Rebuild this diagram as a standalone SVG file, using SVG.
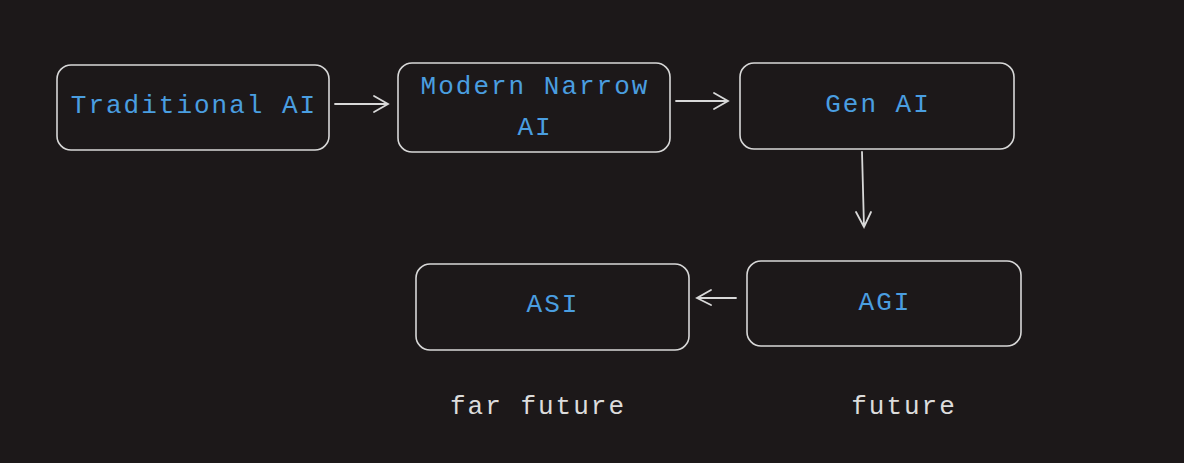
<svg xmlns="http://www.w3.org/2000/svg" width="1184" height="463" viewBox="0 0 1184 463">
<style>
.box{fill:none;stroke:#d8d8d8;stroke-width:1.6}
.lbl{fill:#4a9ee0;font-family:"Liberation Mono",monospace;font-size:26px;letter-spacing:2px;text-anchor:middle}
.note{fill:#dcdcdc;font-family:"Liberation Mono",monospace;font-size:26px;letter-spacing:2px;text-anchor:middle}
.con{stroke:#d8d8d8;stroke-width:1.8;fill:none;stroke-linecap:round}
</style>
<rect width="1184" height="463" fill="#1c1819"/>
<g id="traditional"><rect class="box" x="57" y="65" width="272" height="85" rx="14"/><text class="lbl" x="194" y="113">Traditional AI</text></g>
<g id="narrow"><rect class="box" x="398" y="63" width="272" height="89" rx="14"/><text class="lbl" x="535" y="94">Modern Narrow</text><text class="lbl" x="535" y="135">AI</text></g>
<g id="genai"><rect class="box" x="740" y="63" width="274" height="86" rx="14"/><text class="lbl" x="878" y="112">Gen AI</text></g>
<g id="agi"><rect class="box" x="747" y="261" width="274" height="85" rx="14"/><text class="lbl" x="885" y="310">AGI</text></g>
<g id="asi"><rect class="box" x="416" y="264" width="273" height="86" rx="14"/><text class="lbl" x="553" y="312">ASI</text></g>
<g id="notes"><text class="note" x="538" y="414">far future</text><text class="note" x="904" y="414">future</text></g>
<g id="connectors">
<path class="con" d="M335 104 L388 104 M374 96 L388 104 L374 112"/>
<path class="con" d="M676 101 L728 101 M714 93 L728 101 L714 109"/>
<path class="con" d="M862 152 L864 227 M856 212 L864 227 L871 212"/>
<path class="con" d="M736 298 L697 298 M711 290 L697 298 L711 305"/>
</g>
</svg>
